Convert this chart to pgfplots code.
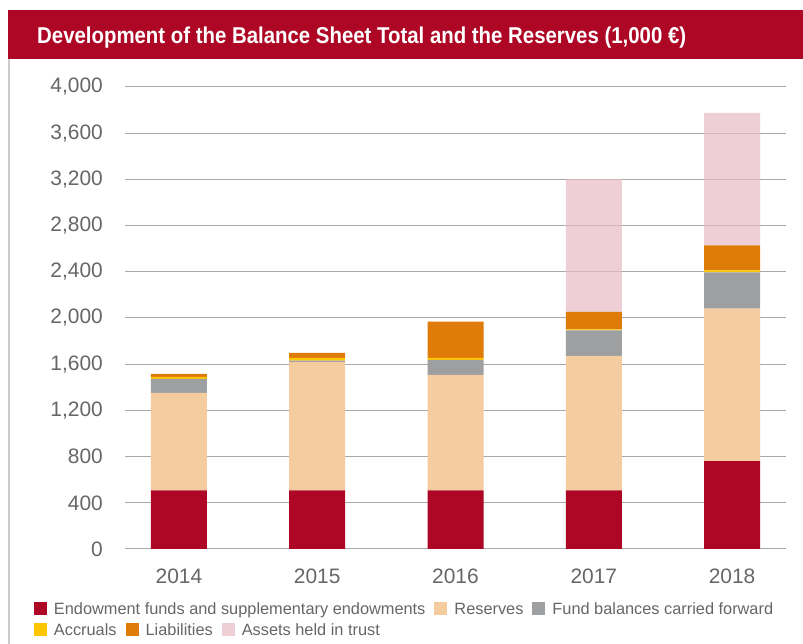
\documentclass[border=0pt]{standalone}
\usepackage{pgfplots}
\pgfplotsset{compat=1.18}
\usepackage{pgfplotstable}
\usepackage{fontspec}
\setmainfont{Liberation Sans}
\newfontfamily\titlefont[FakeStretch=0.89]{Liberation Sans}

\definecolor{cEnd}{HTML}{AE0725}
\definecolor{cRes}{HTML}{F4CCA0}
\definecolor{cFund}{HTML}{9E9FA1}
\definecolor{cAcc}{HTML}{FFC600}
\definecolor{cLia}{HTML}{DE7B09}
\definecolor{cTrust}{RGB}{229,186,195}
\definecolor{cText}{HTML}{666666}
\definecolor{cGrid}{HTML}{A8A8A8}
\definecolor{cBorder}{HTML}{CCCCCC}

\pgfplotstableread{
x end res fund acc lia trust
0 507 844 122 17 26 0
1 507 1113 12 23 44 0
2 507 1000 131 17 313 0
3 507 1166 220 9 151 1150
4 760 1321 314 17 217 1148
}\datatable

\pgfplotsset{
  sq/.style={legend image code/.code={\fill[##1] (0bp,-0.5bp) rectangle (13bp,12bp);}},
  commonaxis/.style={
    at={(125bp,95bp)}, anchor=south west,
    scale only axis, width=661bp, height=462bp,
    xmin=-0.39, xmax=4.39, ymin=0, ymax=4000,
    legend columns=-1,
    legend style={draw=none, fill=none, inner sep=0pt, outer sep=0pt,
      anchor=north west,
      cells={anchor=base west},
      nodes={inner sep=0pt, text=cText, font=\fontsize{16.4}{19}\selectfont},
      column sep=0pt,
      /tikz/every odd column/.append style={column sep=7bp},
      /tikz/every even column/.append style={column sep=9bp}},
  }
}

\begin{document}
\begin{tikzpicture}
\useasboundingbox (0,0) rectangle (803bp,644bp);
\fill[cEnd] (8bp,585bp) rectangle (803bp,634bp);
\draw[cBorder, line width=1.5bp] (8.75bp,0bp) -- (8.75bp,585bp);
\node[anchor=base west, inner sep=0pt, text=white, font=\titlefont\bfseries\fontsize{23}{27}\selectfont] at (37bp,600.7bp) {Development of the Balance Sheet Total and the Reserves (1,000 €)};

\begin{axis}[commonaxis,
  ybar stacked, bar width=56bp,
  axis line style={draw=none},
  major tick length=0pt,
  ymajorgrids, grid style={cGrid, line width=1bp},
  xtick={0,1,2,3,4}, xticklabels={2014,2015,2016,2017,2018},
  ytick={0,400,...,4000},
  tick label style={font=\fontsize{21}{25}\selectfont, text=cText, inner sep=0pt},
  yticklabel style={anchor=east, xshift=-22bp},
  xticklabel style={anchor=north, yshift=-20bp},
  /pgf/number format/1000 sep={,},
  /pgf/number format/assume math mode=true,
  legend style={at={(-0.1377,-0.1158)}},
]
\addplot[fill=cEnd, draw=none, sq] table[x=x, y=end] {\datatable};
\addplot[fill=cRes, draw=none, sq] table[x=x, y=res] {\datatable};
\addplot[fill=cFund, draw=none, sq] table[x=x, y=fund] {\datatable};
\addplot[fill=cAcc, draw=none, sq] table[x=x, y=acc] {\datatable};
\addplot[fill=cLia, draw=none, sq] table[x=x, y=lia] {\datatable};
\addplot[fill=cTrust, fill opacity=0.7, draw=none, sq] table[x=x, y=trust] {\datatable};
\legend{Endowment funds and supplementary endowments, Reserves, Fund balances carried forward}
\end{axis}

\begin{axis}[commonaxis, hide axis,
  legend style={at={(-0.1377,-0.1602)}},
]
\addlegendimage{fill=cAcc, draw=none, sq}
\addlegendimage{fill=cLia, draw=none, sq}
\addlegendimage{fill=cTrust, fill opacity=0.7, draw=none, sq}
\legend{Accruals, Liabilities, Assets held in trust}
\end{axis}
\end{tikzpicture}
\end{document}
